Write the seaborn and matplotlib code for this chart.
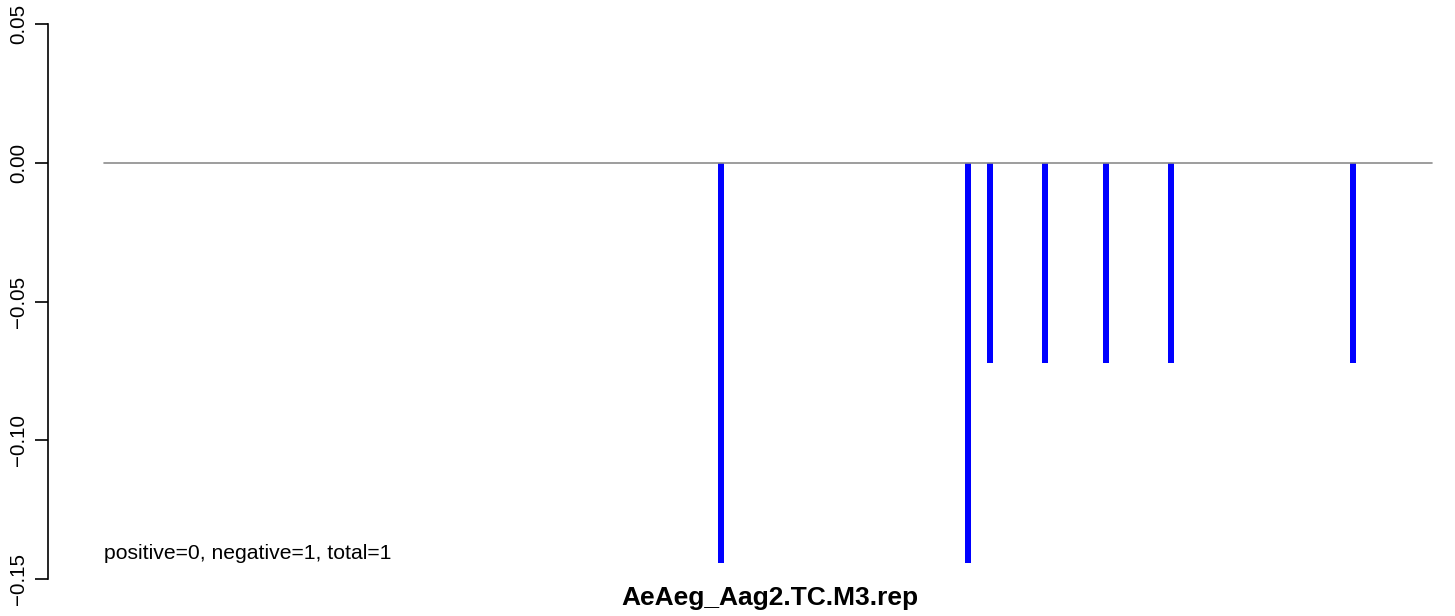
import matplotlib
matplotlib.use("Agg")
import matplotlib.pyplot as plt
import seaborn as sns
import numpy as np
import pandas as pd

# data
positions = [617, 864, 886, 941, 1002, 1067, 1249]
values = [-0.1441, -0.1441, -0.0722, -0.0722, -0.0722, -0.0722, -0.0722]
line_x = [0, 1328]
line_y = [0, 0]
y_ticks = [-0.15, -0.10, -0.05, 0.00, 0.05]
y_tick_labels = ["\u22120.15", "\u22120.10", "\u22120.05", "0.00", "0.05"]
title = "AeAeg_Aag2.TC.M3.rep"
note = "positive=0, negative=1, total=1"

sns.set_style("white")
plt.rcParams['font.family'] = ['Liberation Sans', 'DejaVu Sans']

W, H = 1455, 616
fig = plt.figure(figsize=(W / 100, H / 100), dpi=100)
top_px, bot_px = 24, 579
ax = fig.add_axes([48 / W, 1 - bot_px / H, (1440 - 48) / W, (bot_px - top_px) / H])

df = pd.DataFrame({"pos": positions, "val": values})
min_gap = np.min(np.diff(sorted(positions)))
sns.barplot(data=df, x="pos", y="val", native_scale=True, orient="x",
            width=6 / min_gap, color="blue", saturation=1, linewidth=0,
            errorbar=None, ax=ax)
sns.lineplot(x=line_x, y=line_y, color="#8c8c8c", linewidth=1.2, ax=ax)

ax.set_xlim(-56, 1336)
ax.set_ylim(-0.15, 0.05)
ax.set_xticks([])
ax.set_xlabel("")
ax.set_ylabel("")
for s in ["top", "right", "bottom"]:
    ax.spines[s].set_visible(False)
ax.spines["left"].set_linewidth(1.2)
ax.spines["left"].set_color("black")
ax.set_yticks(y_ticks)
ax.set_yticklabels(y_tick_labels, rotation=90, va="center", fontsize=14.8, color="black")
ax.tick_params(axis="y", direction="out", length=9.4, width=1.2, color="black", pad=5, left=True)

ax.text(0, -0.1409, note, fontsize=15.2, ha="left", va="center", color="black")
fig.text(770 / W, 1 - 598 / H, title, fontsize=19, fontweight="bold", ha="center", va="center", color="black")

fig.savefig("out.png", dpi=100, facecolor="white")
